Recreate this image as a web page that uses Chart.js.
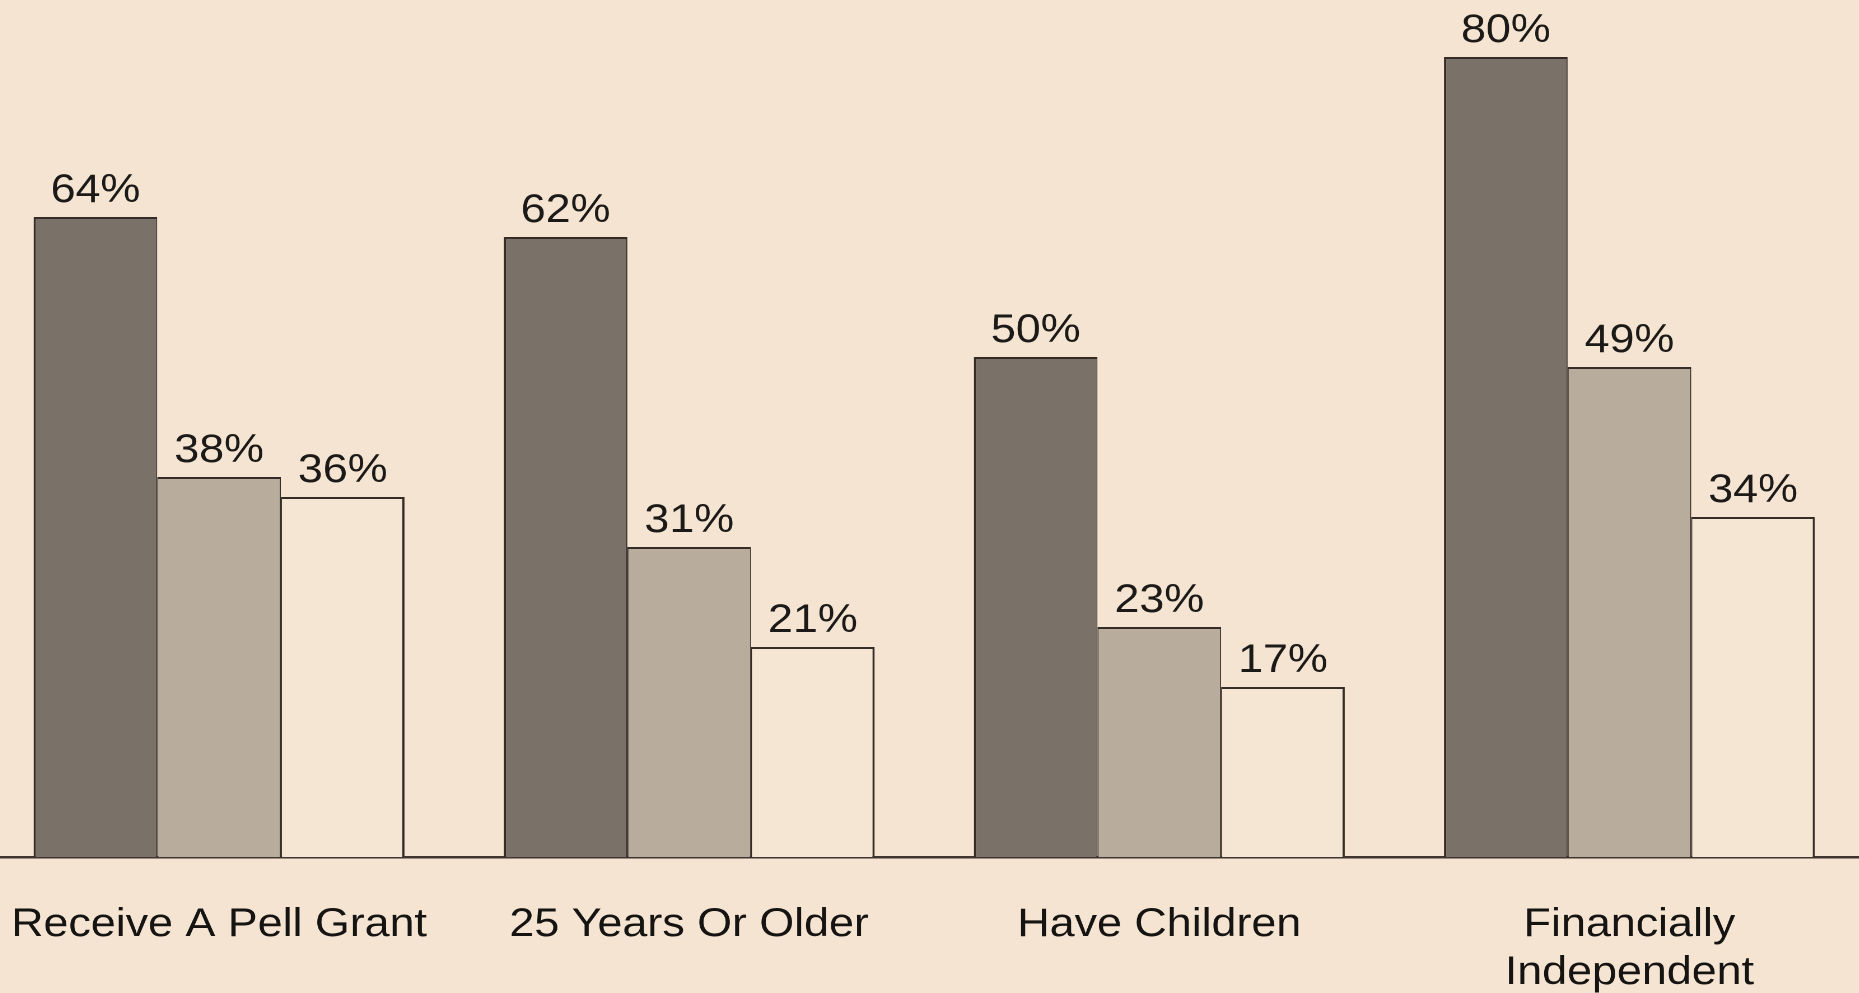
<!DOCTYPE html>
<html>
<head>
<meta charset="utf-8">
<script src="https://cdn.jsdelivr.net/npm/chart.js@4/dist/chart.umd.min.js"></script>
<style>
  html, body { margin: 0; padding: 0; background: #f4e4d1; overflow: hidden; width: 1859px; height: 993px; }
  #c { position: absolute; left: -16px; top: 0; transform: scaleX(1.12); transform-origin: 0 0; }
</style>
</head>
<body>
<canvas id="c" width="1679" height="993"></canvas>
<script>
const categories = ['Receive A Pell Grant', '25 Years Or Older', 'Have Children', ['Financially', 'Independent']];
const seriesA = [64, 62, 50, 80];
const seriesB = [38, 31, 23, 49];
const seriesC = [36, 21, 17, 34];
const yMax = 85.7;

const FONT = '"Liberation Sans", Arial, sans-serif';
const border = '#352c28';

const valueLabels = {
  id: 'valueLabels',
  afterDatasetsDraw(chart) {
    const ctx = chart.ctx;
    ctx.save();
    ctx.font = '40px ' + FONT;
    ctx.fillStyle = '#1c1a18';
    ctx.textAlign = 'center';
    ctx.textBaseline = 'alphabetic';
    chart.data.datasets.forEach((ds, i) => {
      chart.getDatasetMeta(i).data.forEach((bar, j) => {
        ctx.fillText(ds.data[j] + '%', bar.x, bar.y - 15);
      });
    });
    ctx.restore();
  }
};

new Chart(document.getElementById('c'), {
  type: 'bar',
  data: {
    labels: categories,
    datasets: [
      { data: seriesA, backgroundColor: '#7a7268', borderColor: border,
        borderWidth: { top: 2, left: 2, right: 1, bottom: 0 } },
      { data: seriesB, backgroundColor: '#b8ad9c', borderColor: border,
        borderWidth: { top: 2, left: 1, right: 1, bottom: 0 } },
      { data: seriesC, backgroundColor: '#f5e6d4', borderColor: border,
        borderWidth: { top: 2, left: 1, right: 2, bottom: 0 } }
    ]
  },
  options: {
    responsive: false,
    animation: false,
    devicePixelRatio: 2,
    layout: { padding: 0 },
    datasets: { bar: { categoryPercentage: 0.789, barPercentage: 1.0, borderSkipped: 'start' } },
    plugins: { legend: { display: false }, tooltip: { enabled: false } },
    scales: {
      x: {
        offset: true,
        grid: { display: false, drawTicks: true, tickLength: 44 },
        border: { display: true, color: '#3f3632', width: 2.5 },
        ticks: { padding: 0, color: '#161412', font: { family: FONT, size: 40 }, maxRotation: 0, autoSkip: false },
        afterFit(scale) { scale.height = 136; }
      },
      y: { display: false, min: 0, max: yMax }
    }
  },
  plugins: [valueLabels]
});
</script>
</body>
</html>
